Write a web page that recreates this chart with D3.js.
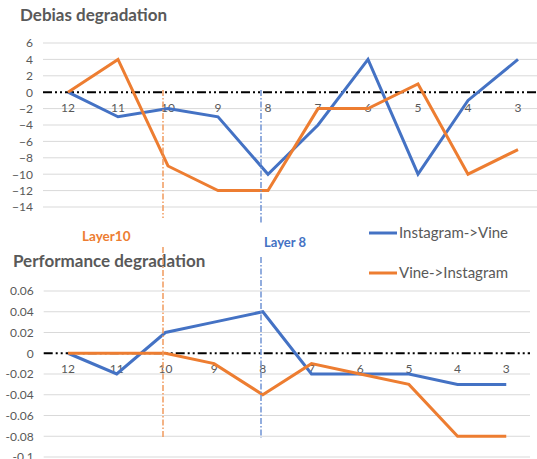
<!DOCTYPE html>
<html>
<head>
<meta charset="utf-8">
<script src="https://cdn.jsdelivr.net/npm/d3@7"></script>
<style>
  html, body { margin: 0; padding: 0; background: #fff; }
  svg { display: block; font-family: Lato, "Open Sans", sans-serif; }
</style>
</head>
<body>
<svg id="chart" width="537" height="459"></svg>
<script>
// ---- data ----
const layers = ["12", "11", "10", "9", "8", "7", "6", "5", "4", "3"];
const debiasInstaVine = [0, -3, -2, -3, -10, -4, 4, -10, -1, 4];
const debiasVineInsta = [0, 4, -9, -12, -12, -2, -2, 1, -10, -7];
const perfInstaVine = [0, -0.02, 0.02, 0.03, 0.04, -0.02, -0.02, -0.02, -0.03, -0.03];
const perfVineInsta = [0, 0, 0, -0.01, -0.04, -0.01, -0.02, -0.03, -0.08, -0.08];
const debiasTicks = [6, 4, 2, 0, -2, -4, -6, -8, -10, -12, -14];
const perfTicks = [0.06, 0.04, 0.02, 0, -0.02, -0.04, -0.06, -0.08, -0.1];
const seriesNames = ["Instagram->Vine", "Vine->Instagram"];
const markLayers = ["10", "8"];
const markLabels = ["Layer10", "Layer 8"];

const BLUE = "#4472C4", ORANGE = "#ED7D31", GRID = "#D9D9D9", TXT = "#595959";
const colors = [BLUE, ORANGE];

const svg = d3.select("#chart");

function panel(cfg) {
  const x = d3.scaleBand().domain(layers).range(cfg.xRange);
  const y = d3.scaleLinear().domain(cfg.yDomain).range(cfg.yRange);
  const g = svg.append("g");
  const cx = d => x(d) + x.bandwidth() / 2;

  const yAxis = d3.axisLeft(y).tickValues(cfg.ticks).tickSize(0).tickFormat(cfg.fmt);
  const ya = g.append("g").attr("transform", `translate(${cfg.xRange[0]},0)`).call(yAxis);
  ya.select(".domain").remove();
  ya.selectAll("text").attr("x", -10).attr("fill", TXT).style("font-size", "12px").style("font-family", "Lato, sans-serif");
  g.append("g").selectAll("line").data(cfg.ticks.filter(t => t !== 0)).join("line")
    .attr("x1", cfg.xRange[0]).attr("x2", cfg.gridEnd)
    .attr("y1", d => y(d)).attr("y2", d => y(d))
    .attr("stroke", GRID).attr("stroke-width", 1);

  g.append("line").attr("x1", cfg.xRange[0]).attr("x2", cfg.gridEnd)
    .attr("y1", y(0)).attr("y2", y(0))
    .attr("stroke", "#000").attr("stroke-width", 2)
    .attr("stroke-dasharray", "9,3,2,3,2,3");

  const xAxis = d3.axisBottom(x).tickSize(0);
  const xa = g.append("g").attr("transform", `translate(0,${y(0)})`).call(xAxis);
  xa.select(".domain").remove();
  xa.selectAll("text").attr("y", 11).attr("fill", TXT).style("font-size", "12px").style("font-family", "Lato, sans-serif");

  const line = d3.line().x((d, i) => cx(layers[i])).y(d => y(d));
  cfg.series.forEach((s, k) => {
    g.append("path").datum(s).attr("d", line)
      .attr("fill", "none").attr("stroke", colors[k]).attr("stroke-width", 3)
      .attr("stroke-linejoin", "miter");
  });

  g.append("text").attr("x", cfg.titleX).attr("y", cfg.titleY)
    .attr("fill", TXT).style("font-size", "17px").style("font-weight", "bold")
    .text(cfg.title);
  return { x, y, cx };
}

const topPanel = panel({
  xRange: [43, 543], gridEnd: 537,
  yDomain: [-14, 6], yRange: [207, 43],
  ticks: debiasTicks, fmt: d3.format("d"),
  series: [debiasInstaVine, debiasVineInsta],
  title: "Debias degradation", titleX: 20, titleY: 21
});
const botPanel = panel({
  xRange: [43.7, 530.6], gridEnd: 530,
  yDomain: [-0.1, 0.06], yRange: [457, 291],
  ticks: perfTicks, fmt: d => d === 0 ? "0" : String(+d.toFixed(2)),
  series: [perfInstaVine, perfVineInsta],
  title: "Performance degradation", titleX: 13, titleY: 267
});

const markCols = ["#F19A5E", "#6F93D3"];
const segs = [
  [[90, 218], [247, 438]],
  [[90, 223], [257, 438]]
];
markLayers.forEach((L, k) => {
  const xp = Math.round(botPanel.cx(L)) - 2;
  segs[k].forEach(([a, b]) => {
    svg.append("line").attr("x1", xp).attr("x2", xp).attr("y1", a).attr("y2", b)
      .attr("stroke", markCols[k]).attr("stroke-width", 1.5)
      .attr("stroke-dasharray", "6,2,1.5,2");
  });
});
svg.append("text").attr("x", 82).attr("y", 241).attr("fill", ORANGE)
  .style("font-size", "13.5px").style("font-weight", "bold").text(markLabels[0]);
svg.append("text").attr("x", 264).attr("y", 247).attr("fill", BLUE)
  .style("font-size", "13px").style("font-weight", "bold").text(markLabels[1]);

const legY = [233, 273];
seriesNames.forEach((n, k) => {
  svg.append("line").attr("x1", 369).attr("x2", 397).attr("y1", legY[k]).attr("y2", legY[k])
    .attr("stroke", colors[k]).attr("stroke-width", 3);
  svg.append("text").attr("x", 399).attr("y", legY[k]).attr("dy", "0.35em")
    .attr("fill", TXT).style("font-size", "15px").text(n);
});
</script>
</body>
</html>
